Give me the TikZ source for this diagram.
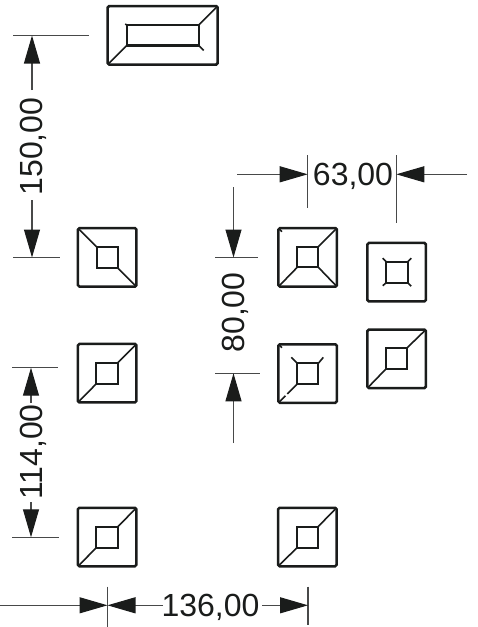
\documentclass[tikz,border=0pt]{standalone}
\usepackage{fontspec}
\setmainfont{Liberation Sans}
\usetikzlibrary{arrows.meta}
\definecolor{inkdark}{HTML}{1A1C1B}
\tikzset{
    outerpad/.style={draw=inkdark, line width=2.5pt, rounded corners=1.5pt, inner sep=0pt, outer sep=0pt},
    innerpad/.style={draw=inkdark, line width=2.1pt, inner sep=0pt, outer sep=0pt},
    padline/.style={draw=inkdark, line width=1.6pt},
    dimline/.style={draw=inkdark!80, line width=1.1pt},
    dimarrow/.style={dimline, -{Triangle[length=28pt,width=16pt,color=inkdark]}},
    dimtext/.style={text=inkdark, font=\fontsize{32}{32}\selectfont, inner sep=0pt, text depth=0pt}
}
\begin{document}
\begin{tikzpicture}[x=1pt, y=-1pt]
    \useasboundingbox (0, 0) rectangle (478, 627);

    % Wide pad at the top
    \node[outerpad, minimum width=110pt, minimum height=58.5pt] (padtop) at (162.7, 35.3) {};
    \node[innerpad, minimum width=72pt, minimum height=20.5pt] (intop) at (162.7, 35.2) {};
    \draw[padline] (padtop.north east) -- (intop.north east);
    \draw[padline] (padtop.south west) -- (intop.south west);
    \draw[padline] (intop.south east) -- ++(5, 5);
    \draw[padline] (intop.north west) -- ++(-1.5, -1);

    % Left column
    \node[outerpad, minimum width=58.5pt, minimum height=58.5pt] (padla) at (107.2, 257.4) {};
    \node[innerpad, minimum width=21pt, minimum height=21pt] (inla) at (107.2, 257.4) {};
    \draw[padline] (padla.north west) -- (inla.north west);
    \draw[padline] (padla.south east) -- (inla.south east);

    \node[outerpad, minimum width=58.5pt, minimum height=58.5pt] (padlb) at (107.2, 373.2) {};
    \node[innerpad, minimum width=21.5pt, minimum height=21pt] (inlb) at (107, 373.3) {};
    \draw[padline] (padlb.north east) -- (inlb.north east);
    \draw[padline] (padlb.south west) -- (inlb.south west);

    \node[outerpad, minimum width=58.5pt, minimum height=58.5pt] (padlc) at (107.2, 537) {};
    \node[innerpad, minimum width=21.5pt, minimum height=21pt] (inlc) at (107, 537.3) {};
    \draw[padline] (padlc.north east) -- (inlc.north east);
    \draw[padline] (padlc.south west) -- (inlc.south west);

    % Middle column
    \node[outerpad, minimum width=58.5pt, minimum height=58.5pt] (padma) at (307.7, 257.4) {};
    \node[innerpad, minimum width=21pt, minimum height=20.5pt] (inma) at (307.8, 257) {};
    \draw[padline] (padma.north east) -- (inma.north east);
    \draw[padline] (padma.south west) -- (inma.south west);
    \draw[padline] (padma.south east) -- (inma.south east);
    \draw[padline] (padma.north west) -- ++(3.5, 3.5);

    \node[outerpad, minimum width=58.5pt, minimum height=58.5pt] (padmb) at (307.7, 373.5) {};
    \node[innerpad, minimum width=21pt, minimum height=20.5pt] (inmb) at (307.8, 373.6) {};
    \draw[padline] (inmb.north west) -- ++(-6, -6);
    \draw[padline] (inmb.north east) -- ++(5, -6);
    \draw[padline] (inmb.south west) -- ++(-10, 10);
    \draw[padline] (padmb.south west) -- ++(7, -7);
    \draw[padline] (padmb.north west) -- ++(3.5, 3.5);

    \node[outerpad, minimum width=58.5pt, minimum height=58.5pt] (padmc) at (307.3, 537) {};
    \node[innerpad, minimum width=21pt, minimum height=21pt] (inmc) at (307.3, 537.5) {};
    \draw[padline] (padmc.north east) -- (inmc.north east);
    \draw[padline] (padmc.south west) -- (inmc.south west);

    % Right column
    \node[outerpad, minimum width=58.5pt, minimum height=58.5pt] (padra) at (396.7, 272.2) {};
    \node[innerpad, minimum width=21.5pt, minimum height=21pt] (inra) at (397, 272.2) {};
    \draw[padline] (inra.north west) -- ++(-3.5, -3.5);
    \draw[padline] (inra.north east) -- ++(3.5, -3.5);
    \draw[padline] (inra.south west) -- ++(-3.5, 3);
    \draw[padline] (inra.south east) -- ++(3.5, 3.5);

    \node[outerpad, minimum width=58.5pt, minimum height=58.5pt] (padrb) at (396.7, 358.8) {};
    \node[innerpad, minimum width=21.5pt, minimum height=21.5pt] (inrb) at (396.4, 358.5) {};
    \draw[padline] (padrb.north east) -- (inrb.north east);
    \draw[padline] (padrb.south west) -- (inrb.south west);

    % Dimension 150,00
    \coordinate (extaa) at (13, 35.5);
    \coordinate (extab) at (89, 35.5);
    \coordinate (extba) at (13, 257.5);
    \coordinate (extbb) at (60, 257.5);
    \coordinate (tipa) at (32, 35.5);
    \coordinate (taila) at (32, 90);
    \coordinate (tipb) at (32, 257.5);
    \coordinate (tailb) at (32, 200);
    \draw[dimline] (extaa) -- (extab);
    \draw[dimline] (extba) -- (extbb);
    \draw[dimarrow] (taila) -- (tipa);
    \draw[dimarrow] (tailb) -- (tipb);
    \node[dimtext, rotate=90] (dimheight) at (31.5, 146.5) {150,00};

    % Dimension 114,00
    \coordinate (extca) at (12, 367.7);
    \coordinate (extcb) at (58, 367.7);
    \coordinate (extda) at (12, 537.3);
    \coordinate (extdb) at (59, 537.3);
    \coordinate (tipc) at (31, 367.7);
    \coordinate (tailc) at (31, 403);
    \coordinate (tipd) at (31, 537.3);
    \coordinate (taild) at (31, 502);
    \draw[dimline] (extca) -- (extcb);
    \draw[dimline] (extda) -- (extdb);
    \draw[dimarrow] (tailc) -- (tipc);
    \draw[dimarrow] (taild) -- (tipd);
    \node[dimtext, rotate=90] (dimspan) at (31, 452) {114,00};

    % Dimension 80,00
    \coordinate (extea) at (215, 257.5);
    \coordinate (exteb) at (258, 257.5);
    \coordinate (extfa) at (215, 373.3);
    \coordinate (extfb) at (260, 373.3);
    \coordinate (tipe) at (233.5, 257.5);
    \coordinate (taile) at (233.5, 187);
    \coordinate (tipf) at (233.5, 373.3);
    \coordinate (tailf) at (233.5, 443);
    \draw[dimline] (extea) -- (exteb);
    \draw[dimline] (extfa) -- (extfb);
    \draw[dimarrow] (taile) -- (tipe);
    \draw[dimarrow] (tailf) -- (tipf);
    \node[dimtext, rotate=90] (dimgap) at (233.5, 312.5) {80,00};

    % Dimension 63,00
    \coordinate (extga) at (307.7, 155);
    \coordinate (extgb) at (307.7, 208);
    \coordinate (extha) at (396.3, 155);
    \coordinate (exthb) at (396.3, 223);
    \coordinate (tipg) at (307.7, 174.3);
    \coordinate (tailg) at (237, 174.3);
    \coordinate (tiph) at (396.3, 174.3);
    \coordinate (tailh) at (467, 174.3);
    \draw[dimline] (extga) -- (extgb);
    \draw[dimline] (extha) -- (exthb);
    \draw[dimarrow] (tailg) -- (tipg);
    \draw[dimarrow] (tailh) -- (tiph);
    \node[dimtext] (dimoffset) at (353, 174) {63,00};

    % Dimension 136,00
    \coordinate (extia) at (107.5, 586.5);
    \coordinate (extib) at (107.5, 627);
    \coordinate (extja) at (308, 586.5);
    \coordinate (extjb) at (308, 625);
    \coordinate (tipi) at (107.5, 605.3);
    \coordinate (taili) at (0, 605.3);
    \coordinate (tipj) at (107.5, 605.3);
    \coordinate (tailj) at (163, 605.3);
    \coordinate (tipk) at (308, 605.3);
    \coordinate (tailk) at (262, 605.3);
    \draw[dimline] (extia) -- (extib);
    \draw[dimline] (extja) -- (extjb);
    \draw[dimarrow] (taili) -- (tipi);
    \draw[dimarrow] (tailj) -- (tipj);
    \draw[dimarrow] (tailk) -- (tipk);
    \node[dimtext] (dimwidth) at (210.5, 605.5) {136,00};
\end{tikzpicture}
\end{document}
